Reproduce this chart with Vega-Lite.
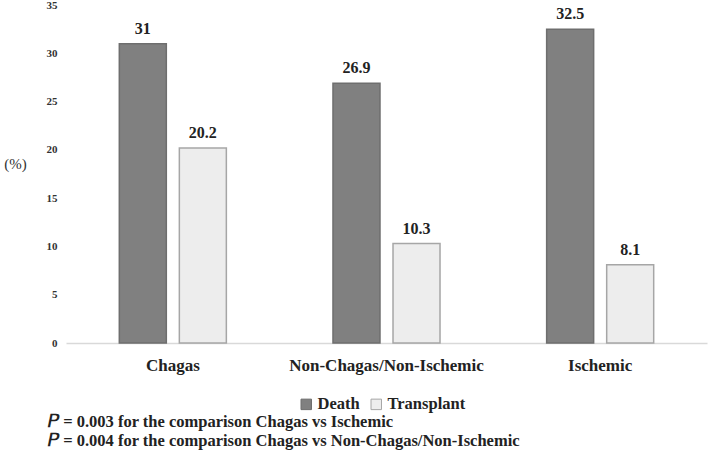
{
  "$schema": "https://vega.github.io/schema/vega-lite/v6.json",
  "width": 641,
  "height": 338,
  "autosize": "none",
  "padding": {"left": 66, "top": 5, "right": 2, "bottom": 110},
  "background": "white",
  "data": {
    "values": [
      {"group": "Chagas", "outcome": "Death", "value": 31},
      {"group": "Chagas", "outcome": "Transplant", "value": 20.2},
      {"group": "Non-Chagas/Non-Ischemic", "outcome": "Death", "value": 26.9},
      {"group": "Non-Chagas/Non-Ischemic", "outcome": "Transplant", "value": 10.3},
      {"group": "Ischemic", "outcome": "Death", "value": 32.5},
      {"group": "Ischemic", "outcome": "Transplant", "value": 8.1}
    ]
  },
  "title": {
    "text": ["𝑃 = 0.003 for the comparison Chagas vs Ischemic", "𝑃 = 0.004 for the comparison Chagas vs Non-Chagas/Non-Ischemic"],
    "orient": "bottom",
    "anchor": "start",
    "frame": "group",
    "dx": -18,
    "offset": 1,
    "font": "serif",
    "fontWeight": "bold",
    "fontSize": 16.5,
    "lineHeight": 19,
    "color": "#222222"
  },
  "encoding": {
    "x": {
      "field": "group",
      "type": "nominal",
      "sort": ["Chagas", "Non-Chagas/Non-Ischemic", "Ischemic"],
      "scale": {"paddingInner": 0, "paddingOuter": 0},
      "axis": {
        "title": null,
        "labelAngle": 0,
        "ticks": false,
        "domainColor": "#d9d9d9",
        "domainWidth": 1.5,
        "labelFont": "Liberation Serif",
        "labelFontWeight": "bold",
        "labelFontSize": 17,
        "labelColor": "#222222",
        "labelPadding": 14,
        "labelLimit": 0
      }
    },
    "xOffset": {
      "field": "outcome",
      "type": "nominal",
      "sort": ["Death", "Transplant"],
      "scale": {"paddingInner": 0.217, "paddingOuter": 0.888}
    },
    "y": {
      "field": "value",
      "type": "quantitative",
      "scale": {"domain": [0, 35], "nice": false},
      "axis": {
        "values": [0, 5, 10, 15, 20, 25, 30, 35],
        "grid": false,
        "domain": false,
        "ticks": false,
        "labelFont": "Liberation Serif",
        "labelFontWeight": "bold",
        "labelFontSize": 11,
        "labelColor": "#333333",
        "labelPadding": 9,
        "title": "(%)",
        "titleAngle": 0,
        "titleFont": "Liberation Serif",
        "titleFontWeight": "normal",
        "titleFontSize": 15,
        "titleColor": "#333333",
        "titleX": -51,
        "titleY": 158,
        "titleAlign": "center",
        "titleBaseline": "middle"
      }
    }
  },
  "layer": [
    {
      "mark": {"type": "bar", "strokeWidth": 1.5},
      "encoding": {
        "fill": {
          "field": "outcome",
          "type": "nominal",
          "sort": ["Death", "Transplant"],
          "scale": {"domain": ["Death", "Transplant"], "range": ["#808080", "#ededed"]},
          "legend": {
            "title": null,
            "orient": "none",
            "direction": "horizontal",
            "legendX": 232,
            "legendY": 391,
            "symbolType": "square",
            "symbolSize": 110,
            "symbolStrokeWidth": 1,
            "labelFont": "Liberation Serif",
            "labelFontWeight": "bold",
            "labelFontSize": 16.5,
            "labelColor": "#222222",
            "labelOffset": 3,
            "columnPadding": 8
          }
        },
        "stroke": {
          "field": "outcome",
          "type": "nominal",
          "sort": ["Death", "Transplant"],
          "scale": {"domain": ["Death", "Transplant"], "range": ["#6e6e6e", "#a6a6a6"]},
          "legend": null
        }
      }
    },
    {
      "mark": {
        "type": "text",
        "baseline": "bottom",
        "dy": -7,
        "font": "Liberation Serif",
        "fontWeight": "bold",
        "fontSize": 16,
        "color": "#222222"
      },
      "encoding": {
        "text": {"field": "value", "type": "quantitative"}
      }
    }
  ],
  "config": {"view": {"stroke": null}}
}
